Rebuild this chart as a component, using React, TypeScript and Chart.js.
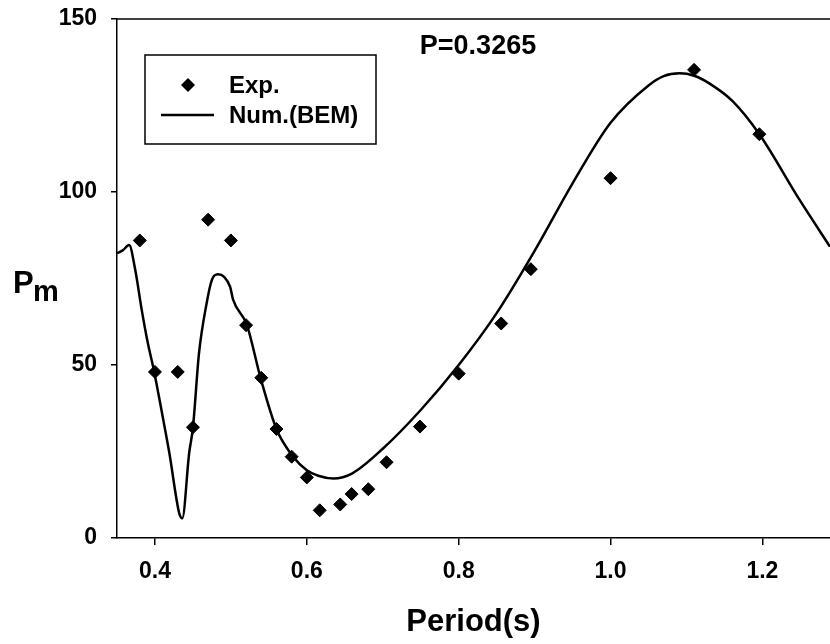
import React, { useEffect, useRef } from 'react';
import { Chart, registerables } from 'chart.js';

Chart.register(...registerables);

// Experimental points (Period s, Pm)
const expPeriod = [0.38, 0.40, 0.43, 0.45, 0.47, 0.50, 0.52, 0.54, 0.56, 0.58, 0.60, 0.617, 0.644, 0.659, 0.681, 0.705, 0.749, 0.80, 0.856, 0.895, 1.0, 1.11, 1.196];
const expPm = [86, 48, 48, 32, 92, 86, 61.5, 46.3, 31.5, 23.5, 17.5, 8, 9.7, 12.7, 14.1, 21.9, 32.2, 47.5, 62, 77.7, 104, 135.3, 116.7];

// Numerical (BEM) curve
const bemPeriod = [0.35, 0.358, 0.366, 0.374, 0.3825, 0.39, 0.399, 0.411, 0.419, 0.432, 0.436, 0.445, 0.45, 0.458, 0.468, 0.475, 0.483, 0.491, 0.499, 0.503, 0.521, 0.539, 0.56, 0.582, 0.60, 0.615, 0.635, 0.66, 0.70, 0.75, 0.80, 0.85, 0.90, 0.95, 1.00, 1.05, 1.07, 1.091, 1.11, 1.13, 1.161, 1.196, 1.249, 1.289];
const bemPm = [82.3, 83.2, 84.7, 77.5, 66, 57, 48, 34.1, 24.5, 7.1, 5.7, 24.5, 31.9, 53.4, 67.8, 74.6, 76.2, 75.5, 72.6, 68.8, 61.6, 46.3, 31.5, 23.5, 19.6, 18.0, 17.2, 18.7, 25.8, 37, 50, 65, 83, 102.5, 120, 130.8, 133.5, 134.3, 133.6, 131.4, 126.2, 116.7, 97.7, 84.2];

const xTickValues = [0.4, 0.6, 0.8, 1.0, 1.2];
const yTickValues = [0, 50, 100, 150];

const xTitle = 'Period(s)';
const yTitleMain = 'P';
const yTitleSub = 'm';
const annotationText = 'P=0.3265';
const expLabel = 'Exp.';
const bemLabel = 'Num.(BEM)';

const FONT = 'Arial, "Liberation Sans", sans-serif';

export default function App() {
  const ref = useRef<HTMLCanvasElement>(null);

  useEffect(() => {
    document.body.style.margin = '0';
    const canvas = ref.current;
    if (!canvas) return;

    const overlay = {
      id: 'overlay',
      afterDraw(chart: any) {
        const { ctx, chartArea } = chart;
        const { left, top, right } = chartArea;
        ctx.save();
        // top frame line
        ctx.strokeStyle = '#000';
        ctx.lineWidth = 1.5;
        ctx.beginPath();
        ctx.moveTo(left, top);
        ctx.lineTo(right, top);
        ctx.stroke();

        // annotation
        ctx.fillStyle = '#000';
        ctx.font = `bold 27px ${FONT}`;
        ctx.textAlign = 'center';
        ctx.textBaseline = 'middle';
        ctx.fillText(annotationText, left + 361, top + 28);

        // y title P_m
        ctx.textAlign = 'left';
        ctx.textBaseline = 'alphabetic';
        ctx.font = `bold 31px ${FONT}`;
        ctx.fillText(yTitleMain, 13, 293);
        ctx.font = `bold 29px ${FONT}`;
        ctx.fillText(yTitleSub, 33, 301);

        // legend box
        const bx = left + 28;
        const by = top + 36;
        const bw = 231;
        const bh = 89;
        ctx.lineWidth = 1.5;
        ctx.strokeRect(bx, by, bw, bh);
        // Exp marker
        const mx = bx + 43;
        const my = by + 30;
        const r = 7;
        ctx.beginPath();
        ctx.moveTo(mx - r, my);
        ctx.lineTo(mx, my - r);
        ctx.lineTo(mx + r, my);
        ctx.lineTo(mx, my + r);
        ctx.closePath();
        ctx.fill();
        // BEM line sample
        const ly = by + 60;
        ctx.lineWidth = 2.5;
        ctx.beginPath();
        ctx.moveTo(bx + 16, ly);
        ctx.lineTo(bx + 69, ly);
        ctx.stroke();
        ctx.font = `bold 24px ${FONT}`;
        ctx.textBaseline = 'middle';
        ctx.fillText(expLabel, bx + 84, my + 1);
        ctx.fillText(bemLabel, bx + 84, ly + 1);
        ctx.restore();
      },
    };

    const chart = new Chart(canvas, {
      type: 'scatter',
      data: {
        datasets: [
          {
            label: expLabel,
            data: expPeriod.map((x, i) => ({ x, y: expPm[i] })),
            pointStyle: 'rectRot',
            pointRadius: 6.5,
            pointBorderWidth: 1,
            backgroundColor: '#000',
            borderColor: '#000',
            showLine: false,
            order: 0,
          },
          {
            label: bemLabel,
            data: bemPeriod.map((x, i) => ({ x, y: bemPm[i] })),
            showLine: true,
            pointRadius: 0,
            borderColor: '#000',
            borderWidth: 2.5,
            cubicInterpolationMode: 'monotone',
            tension: 0.4,
            order: 1,
          } as any,
        ],
      },
      options: {
        responsive: false,
        animation: false,
        devicePixelRatio: 1,
        layout: { autoPadding: false, padding: { top: 19, left: 0, right: 0, bottom: 0 } },
        plugins: {
          legend: { display: false },
          tooltip: { enabled: false },
        },
        scales: {
          x: {
            type: 'linear',
            min: 0.35,
            max: 1.289,
            afterBuildTicks(scale: any) {
              scale.ticks = xTickValues.map((v) => ({ value: v }));
            },
            afterFit(scale: any) {
              scale.height = 106;
              scale.paddingLeft = 0;
              scale.paddingRight = 0;
            },
            grid: {
              drawOnChartArea: false,
              drawTicks: true,
              tickLength: 7,
              color: '#000',
              lineWidth: 1.5,
            },
            border: { display: true, color: '#000', width: 1.5 },
            ticks: {
              color: '#000',
              padding: 13,
              font: { family: FONT, size: 23, weight: 'bold' },
              callback: (v: any) => Number(v).toFixed(1),
            },
            title: {
              display: true,
              text: xTitle,
              color: '#000',
              font: { family: FONT, size: 31, weight: 'bold' },
              padding: { top: 0, bottom: 3 },
            },
          },
          y: {
            type: 'linear',
            min: 0,
            max: 150,
            afterBuildTicks(scale: any) {
              scale.ticks = yTickValues.map((v) => ({ value: v }));
            },
            afterFit(scale: any) {
              scale.width = 117;
              scale.paddingTop = 0;
              scale.paddingBottom = 0;
            },
            grid: {
              drawOnChartArea: false,
              drawTicks: true,
              tickLength: 6,
              color: '#000',
              lineWidth: 1.5,
            },
            border: { display: true, color: '#000', width: 1.5 },
            ticks: {
              color: '#000',
              padding: 14,
              font: { family: FONT, size: 23, weight: 'bold' },
              callback: (v: any) => String(v),
            },
          },
        },
      },
      plugins: [overlay],
    } as any);

    return () => chart.destroy();
  }, []);

  return (
    <div style={{ width: 830, height: 644 }}>
      <canvas ref={ref} width={830} height={644} style={{ display: 'block' }} />
    </div>
  );
}
